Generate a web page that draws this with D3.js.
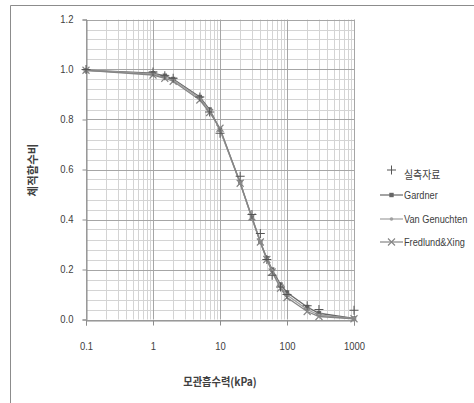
<!DOCTYPE html>
<html>
<head>
<meta charset="utf-8">
<script src="https://cdn.jsdelivr.net/npm/d3@7/dist/d3.min.js"></script>
<style>
  html, body { margin: 0; padding: 0; background: #fff; }
  #chart { width: 474px; height: 403px; }
  text { font-family: "Liberation Sans", Arial, sans-serif; fill: #404040; }
  .kr { font-family: "Noto Sans CJK KR", "Noto Sans", sans-serif; }
</style>
</head>
<body>
<div id="chart"></div>
<script>
// Suction (kPa) at which each value was read
const suction = [0.1, 1, 1.5, 2, 5, 7, 10, 20, 30, 40, 50, 60, 80, 100, 200, 300, 1000];

// Volumetric water content ratio per series
const measured     = [1.0, 0.99, 0.975, 0.965, 0.89, 0.83, 0.745, 0.573, 0.42, 0.344, 0.24, 0.177, 0.13, 0.1, 0.055, 0.04, 0.037];
const gardner      = [0.997, 0.985, 0.975, 0.962, 0.89, 0.84, 0.76, 0.548, 0.405, 0.31, 0.245, 0.2, 0.14, 0.108, 0.05, 0.025, 0.004];
const vanGenuchten = [0.997, 0.982, 0.97, 0.958, 0.885, 0.835, 0.758, 0.545, 0.405, 0.31, 0.24, 0.195, 0.132, 0.098, 0.04, 0.018, 0.003];
const fredlundXing = [0.997, 0.978, 0.965, 0.953, 0.878, 0.828, 0.765, 0.545, 0.41, 0.31, 0.24, 0.19, 0.125, 0.088, 0.032, 0.012, 0.003];

const xTicks = [0.1, 1, 10, 100, 1000];
const yTicks = [0, 0.2, 0.4, 0.6, 0.8, 1.0, 1.2];

const legendLabels = ['실측자료', 'Gardner', 'Van Genuchten', 'Fredlund&Xing'];

(function () {
  const W = 474, H = 403;

  const svg = d3.select('#chart').append('svg')
    .attr('width', W).attr('height', H);

  // outer frame (only top and left edges show in the crop)
  svg.append('path')
    .attr('d', `M10.5,${H} V5.5 H${W}`)
    .attr('fill', 'none').attr('stroke', '#8c8c8c').attr('stroke-width', 1);

  const x = d3.scaleLog().domain([0.1, 1000]).range([86, 354]);
  const y = d3.scaleLinear().domain([0, 1.2]).range([319.5, 19.5]);

  const grid = svg.append('g');

  // minor grid: 0.04 steps on y, 2..9 per decade on x
  const yMinor = d3.range(0, 31).map(i => +(i * 0.04).toFixed(2)).filter(v => Math.round(v * 100) % 20 !== 0);
  grid.selectAll('.ymin').data(yMinor).enter().append('line')
    .attr('x1', x(0.1)).attr('x2', x(1000))
    .attr('y1', d => Math.round(y(d)) + 0.5).attr('y2', d => Math.round(y(d)) + 0.5)
    .attr('stroke', '#d4d4d4');

  const xMinor = x.ticks().filter(v => !xTicks.includes(v));
  grid.selectAll('.xmin').data(xMinor).enter().append('line')
    .attr('x1', d => Math.round(x(d)) + 0.5).attr('x2', d => Math.round(x(d)) + 0.5)
    .attr('y1', y(0)).attr('y2', y(1.2))
    .attr('stroke', '#d4d4d4');

  // major grid
  grid.selectAll('.ymaj').data(yTicks).enter().append('line')
    .attr('x1', x(0.1)).attr('x2', x(1000))
    .attr('y1', d => Math.round(y(d)) + 0.5).attr('y2', d => Math.round(y(d)) + 0.5)
    .attr('stroke', '#a6a6a6');
  grid.selectAll('.xmaj').data(xTicks).enter().append('line')
    .attr('x1', d => Math.round(x(d)) + 0.5).attr('x2', d => Math.round(x(d)) + 0.5)
    .attr('y1', y(0)).attr('y2', y(1.2))
    .attr('stroke', '#a6a6a6');

  // axes
  const xAxis = svg.append('g')
    .attr('transform', `translate(0,${Math.round(y(0)) + 0.5})`)
    .call(d3.axisBottom(x).tickValues(xTicks).tickSize(5).tickPadding(17).tickFormat(d => String(d)));
  const yAxis = svg.append('g')
    .attr('transform', `translate(${Math.round(x(0.1)) + 0.5},0)`)
    .call(d3.axisLeft(y).tickValues(yTicks).tickSize(4).tickPadding(9).tickFormat(d3.format('.1f')));

  [xAxis, yAxis].forEach(a => {
    a.select('.domain').attr('stroke', '#8c8c8c');
    a.selectAll('.tick line').attr('stroke', '#8c8c8c');
    a.selectAll('.tick text')
      .style('font-family', '"Liberation Sans", Arial, sans-serif')
      .style('font-size', '10.5px').attr('fill', '#404040')
      .attr('data-squeeze', 0.9);
  });

  // axis titles
  svg.append('text').attr('class', 'kr')
    .attr('x', 220).attr('y', 386)
    .attr('text-anchor', 'middle')
    .attr('data-squeeze', 0.93)
    .style('font-size', '11px').style('font-weight', 'bold')
    .text('모관흡수력(kPa)');
  svg.append('text').attr('class', 'kr')
    .attr('transform', 'translate(37,170) rotate(-90)')
    .attr('text-anchor', 'middle')
    .attr('data-squeeze', 1)
    .style('font-size', '11.5px').style('font-weight', 'bold')
    .text('체적함수비');

  const series = [
    { name: 'Gardner', values: gardner, color: '#666666', marker: 'square' },
    { name: 'Van Genuchten', values: vanGenuchten, color: '#a0a0a0', marker: 'circle' },
    { name: 'Fredlund&Xing', values: fredlundXing, color: '#858585', marker: 'cross' }
  ];

  const line = d3.line().x(d => x(d[0])).y(d => y(d[1]));

  function drawMarker(sel, type, color) {
    if (type === 'square') {
      sel.append('rect').attr('x', -2.2).attr('y', -2.2).attr('width', 4.4).attr('height', 4.4)
        .attr('fill', color);
    } else if (type === 'circle') {
      sel.append('circle').attr('r', 1.8).attr('fill', color);
    } else if (type === 'cross') {
      sel.append('path').attr('d', 'M-3.5,-3.5L3.5,3.5M-3.5,3.5L3.5,-3.5')
        .attr('stroke', color).attr('stroke-width', 1.1);
    } else if (type === 'plus') {
      sel.append('path').attr('d', 'M-4.5,0H4.5M0,-4.5V4.5')
        .attr('stroke', color).attr('stroke-width', 1);
    }
  }

  const plot = svg.append('g');
  series.forEach(s => {
    const pts = suction.map((v, i) => [v, s.values[i]]);
    plot.append('path').datum(pts)
      .attr('d', line).attr('fill', 'none')
      .attr('stroke', s.color).attr('stroke-width', 1.3);
    plot.selectAll(null).data(pts).enter().append('g')
      .attr('transform', d => `translate(${x(d[0])},${y(d[1])})`)
      .each(function () { drawMarker(d3.select(this), s.marker, s.color); });
  });

  // measured data: markers only
  plot.selectAll('.meas').data(suction.map((v, i) => [v, measured[i]])).enter().append('g')
    .attr('transform', d => `translate(${x(d[0])},${y(d[1])})`)
    .each(function () { drawMarker(d3.select(this), 'plus', '#555555'); });

  // legend
  const legend = svg.append('g');
  const legendY = [172, 195, 219, 242];
  const legendStyle = [
    { marker: 'plus', color: '#555555', line: false },
    { marker: 'square', color: '#666666', line: true },
    { marker: 'circle', color: '#a0a0a0', line: true },
    { marker: 'cross', color: '#858585', line: true }
  ];
  legendLabels.forEach((label, i) => {
    const g = legend.append('g').attr('transform', `translate(0,${legendY[i]})`);
    const st = legendStyle[i];
    if (st.line) {
      g.append('line').attr('x1', 380).attr('x2', 403).attr('y1', 0).attr('y2', 0)
        .attr('stroke', st.color).attr('stroke-width', 1.2);
    }
    const m = g.append('g').attr('transform', `translate(391.5,${i === 0 ? -2 : 0})`);
    drawMarker(m, st.marker, st.color);
    g.append('text')
      .attr('class', i === 0 ? 'kr' : null)
      .attr('x', 404).attr('y', i === 0 ? 3 : 0)
      .attr('dy', '0.35em')
      .attr('data-squeeze', i === 0 ? 0.9 : 0.92)
      .style('font-size', i === 0 ? '11px' : '10px')
      .text(label);
  });

  // narrow the glyphs a little, like the condensed font of the original
  svg.selectAll('text').each(function () {
    const f = this.hasAttribute('data-squeeze') ? +this.getAttribute('data-squeeze') : 0.86;
    this.setAttribute('textLength', this.getComputedTextLength() * f);
    this.setAttribute('lengthAdjust', 'spacingAndGlyphs');
  });
})();
</script>
</body>
</html>
